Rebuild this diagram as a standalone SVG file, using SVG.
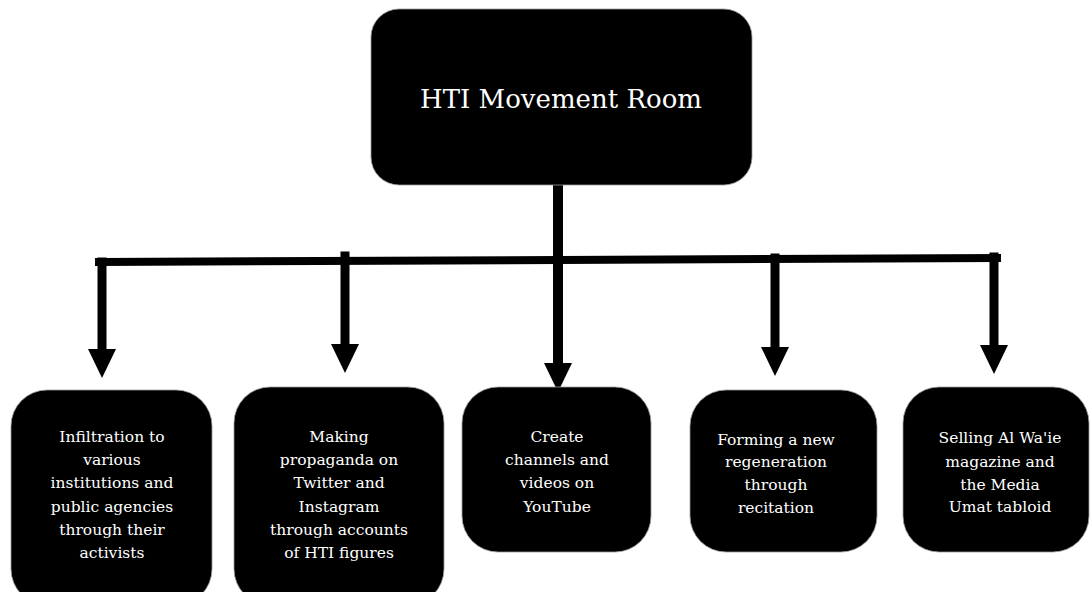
<svg xmlns="http://www.w3.org/2000/svg" width="1090" height="592" viewBox="0 0 1090 592">
<style>
.box{fill:#000;stroke:#9a9a9a;stroke-width:0.8}
.t{fill:#fff;font-family:"DejaVu Serif","Liberation Serif",serif;font-size:15.5px;text-anchor:middle}
.title{fill:#fff;font-family:"DejaVu Serif","Liberation Serif",serif;font-size:26px;text-anchor:middle}
.c{stroke:#000;fill:none;stroke-linecap:square}
</style>
<defs>
<marker id="ah" markerUnits="userSpaceOnUse" viewBox="0 0 29 28" markerWidth="29" markerHeight="28" refX="0" refY="14" orient="auto">
<path d="M0,0 L29,14 L0,28 z" fill="#000"/>
</marker>
</defs>
<g id="connectors">
<line class="c" x1="558" y1="186" x2="558" y2="363" stroke-width="10" marker-end="url(#ah)"/>
<line class="c" x1="99" y1="262" x2="997" y2="258" stroke-width="8"/>
<line class="c" x1="102" y1="262" x2="102" y2="349" stroke-width="9" marker-end="url(#ah)"/>
<line class="c" x1="345" y1="256" x2="345" y2="344" stroke-width="9" marker-end="url(#ah)"/>
<line class="c" x1="775" y1="258" x2="775" y2="347" stroke-width="9" marker-end="url(#ah)"/>
<line class="c" x1="994" y1="257" x2="994" y2="345" stroke-width="9" marker-end="url(#ah)"/>
</g>
<g id="root">
<rect class="box" x="371" y="9" width="381" height="176" rx="28"/>
<text class="title" x="561" y="108">HTI Movement Room</text>
</g>
<g id="n1">
<rect class="box" x="11" y="390" width="201" height="215" rx="36"/>
<text class="t" x="112"><tspan x="112" y="442">Infiltration to</tspan><tspan x="112" y="465">various</tspan><tspan x="112" y="488">institutions and</tspan><tspan x="112" y="512">public agencies</tspan><tspan x="112" y="535">through their</tspan><tspan x="112" y="558">activists</tspan></text>
</g>
<g id="n2">
<rect class="box" x="234" y="387" width="210" height="218" rx="36"/>
<text class="t" x="339"><tspan x="339" y="442">Making</tspan><tspan x="339" y="465">propaganda on</tspan><tspan x="339" y="488">Twitter and</tspan><tspan x="339" y="512">Instagram</tspan><tspan x="339" y="535">through accounts</tspan><tspan x="339" y="558">of HTI figures</tspan></text>
</g>
<g id="n3">
<rect class="box" x="462" y="387" width="189" height="165" rx="36"/>
<text class="t" x="557"><tspan x="557" y="442">Create</tspan><tspan x="557" y="465">channels and</tspan><tspan x="557" y="488">videos on</tspan><tspan x="557" y="512">YouTube</tspan></text>
</g>
<g id="n4">
<rect class="box" x="690" y="390" width="187" height="162" rx="36"/>
<text class="t" x="776"><tspan x="776" y="445">Forming a new</tspan><tspan x="776" y="467">regeneration</tspan><tspan x="776" y="490">through</tspan><tspan x="776" y="513">recitation</tspan></text>
</g>
<g id="n5">
<rect class="box" x="903" y="387" width="186" height="165" rx="36"/>
<text class="t" x="1000"><tspan x="1000" y="443">Selling Al Wa'ie</tspan><tspan x="1000" y="467">magazine and</tspan><tspan x="1000" y="490">the Media</tspan><tspan x="1000" y="512">Umat tabloid</tspan></text>
</g>
</svg>
